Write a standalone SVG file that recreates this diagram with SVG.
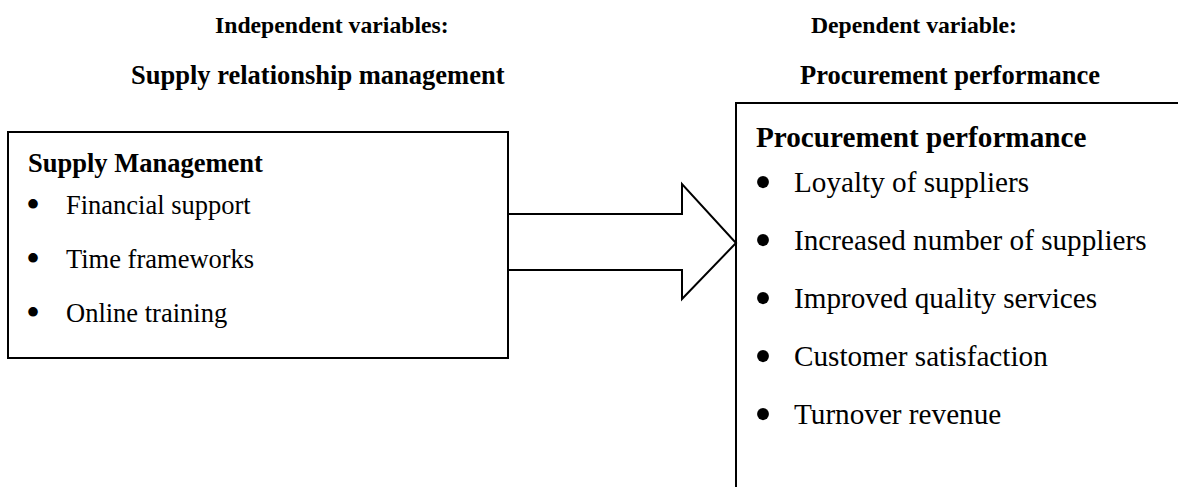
<svg xmlns="http://www.w3.org/2000/svg" width="1178" height="487" viewBox="0 0 1178 487">
<style>
text{font-family:"Liberation Serif","Times New Roman",serif;fill:#000}
.hd1{font-size:23.7px;font-weight:bold}
.hd2{font-size:26.5px;font-weight:bold}
.lt{font-size:26.5px;font-weight:bold}
.li{font-size:26.5px}
.rt{font-size:29.2px;font-weight:bold}
.ri{font-size:29.2px}
.lb{font-size:40px;text-anchor:middle}
.rb{font-size:50px;text-anchor:middle}
.ln{fill:#fff;stroke:#000;stroke-width:2}
</style>
<g id="headers">
<text class="hd1" x="215" y="33">Independent variables:</text>
<text class="hd2" x="131" y="84">Supply relationship management</text>
<text class="hd1" x="811" y="33">Dependent variable:</text>
<text class="hd2" x="800" y="84">Procurement performance</text>
</g>
<g id="supply-management">
<rect class="ln" x="8" y="132" width="500" height="226"/>
<text class="lt" x="28" y="172">Supply Management</text>
<text class="lb" x="33" y="218">•</text><text class="li" x="66" y="214">Financial support</text>
<text class="lb" x="33" y="272">•</text><text class="li" x="66" y="268">Time frameworks</text>
<text class="lb" x="33" y="326">•</text><text class="li" x="66" y="322">Online training</text>
</g>
<g id="connectors">
<polygon class="ln" points="508,214 682,214 682,184 736,243 682,299 682,270 508,270"/>
<line x1="508" y1="213" x2="508" y2="271" stroke="#000" stroke-width="2"/>
</g>
<g id="procurement-performance">
<path d="M736,487 V103 H1178" fill="none" stroke="#000" stroke-width="2"/>
<text class="rt" x="756" y="147">Procurement performance</text>
<text class="rb" x="763" y="199">•</text><text class="ri" x="794" y="192">Loyalty of suppliers</text>
<text class="rb" x="763" y="257">•</text><text class="ri" x="794" y="250">Increased number of suppliers</text>
<text class="rb" x="763" y="315">•</text><text class="ri" x="794" y="308">Improved quality services</text>
<text class="rb" x="763" y="373">•</text><text class="ri" x="794" y="366">Customer satisfaction</text>
<text class="rb" x="763" y="431">•</text><text class="ri" x="794" y="424">Turnover revenue</text>
</g>
</svg>
